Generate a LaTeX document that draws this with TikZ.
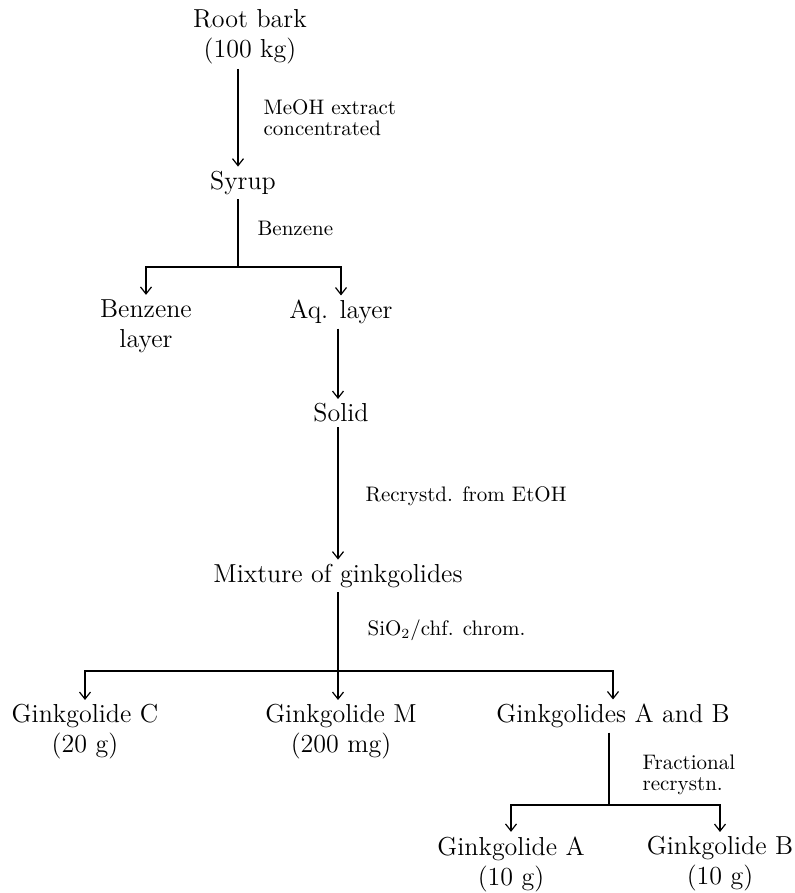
\documentclass[tikz,border=0pt]{standalone}
\usetikzlibrary{arrows.meta}
\tikzset{stage/.style={align=center,inner sep=2pt,font=\fontsize{13}{15}\selectfont},
 	cond/.style={anchor=west,align=left,inner sep=0pt,font=\fontsize{10.5}{10.5}\selectfont},
 	flow/.style={-{Straight Barb[length=3.5pt,width=5.5pt]}}}
\begin{document}
\begin{tikzpicture}[x=0.5pt,y=-0.5pt,line width=0.6pt]
 		\useasboundingbox (0,0) rectangle (795,893);

 		\node[stage] (root) at (250,37) {Root bark\\(100 kg)};
 		\node[stage] (syrup) at (243,183) {Syrup};
 		\node[stage] (benz) at (146,326) {Benzene\\layer};
 		\node[stage] (aq) at (341,312) {Aq. layer};
 		\node[stage] (solid) at (341,413) {Solid};
 		\node[stage] (mix) at (338,576) {Mixture of ginkgolides};
 		\node[stage] (gc) at (85,732) {Ginkgolide C\\(20 g)};
 		\node[stage] (gm) at (341,732) {Ginkgolide M\\(200 mg)};
 		\node[stage] (gab) at (613,716) {Ginkgolides A and B};
 		\node[stage] (ga) at (511,864) {Ginkgolide A\\(10 g)};
 		\node[stage] (gb) at (720,864) {Ginkgolide B\\(10 g)};

 		\node[cond] (c1) at (263,118) {MeOH extract\\concentrated};
 		\node[cond] (c2) at (257,228) {Benzene};
 		\node[cond] (c3) at (365,496) {Recrystd. from EtOH};
 		\node[cond] (c4) at (367,630) {SiO$_2$/chf. chrom.};
 		\node[cond] (c5) at (642,775) {Fractional\\recrystn.};

 		\coordinate (j1) at (238,267);
 		\coordinate (j2) at (338,671);
 		\coordinate (j3) at (609,805);

 		\draw[flow] ([xshift=-6pt]root.south) -- ([xshift=-6pt]root.south |- syrup.north);
 		\draw (j1 |- syrup.south) -- (j1);
 		\draw[flow] (j1) -| (benz);
 		\draw[flow] (j1) -| (aq);
 		\draw[flow] ([xshift=-1.5pt]aq.south) -- ([xshift=-1.5pt]solid.north);
 		\draw[flow] ([xshift=-1.5pt]solid.south) -- ([xshift=-1.5pt]solid.south |- mix.north);
 		\draw (mix) -- (j2);
 		\draw[flow] (j2) -| (gc);
 		\draw[flow] (j2) -- (j2 |- gm.north);
 		\draw[flow] (j2) -| (gab);
 		\draw (j3 |- gab.south) -- (j3);
 		\draw[flow] (j3) -| (ga);
 		\draw[flow] (j3) -| (gb);
 	 \end{tikzpicture}
\end{document}
